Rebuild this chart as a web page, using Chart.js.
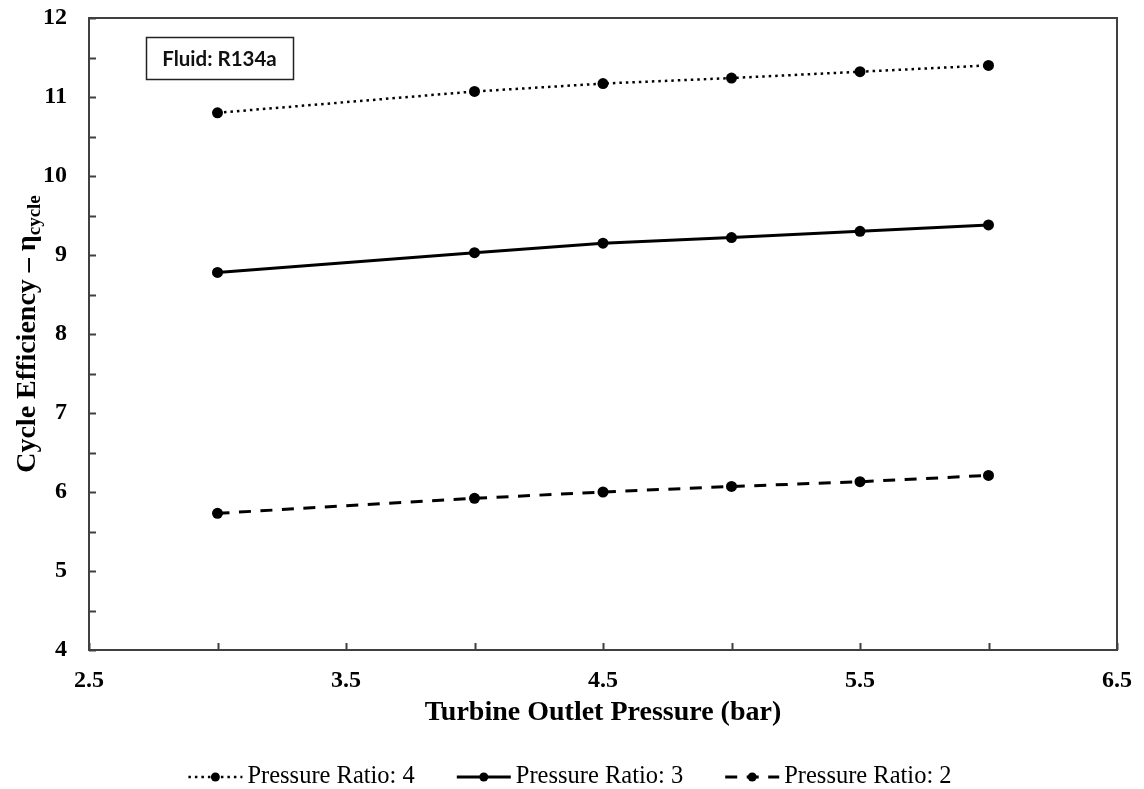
<!DOCTYPE html>
<html>
<head>
<meta charset="utf-8">
<title>Cycle Efficiency vs Turbine Outlet Pressure</title>
<script src="https://cdn.jsdelivr.net/npm/chart.js@4.4.0/dist/chart.umd.min.js"></script>
<style>
  html, body { margin: 0; padding: 0; background: #fff; }
  #wrap { width: 1144px; height: 789px; }
</style>
</head>
<body>
<div id="wrap"><canvas id="effChart" width="1144" height="789"></canvas></div>
<script>
// Turbine outlet pressure (bar)
const outletPressure = [3, 4, 4.5, 5, 5.5, 6];

// Cycle efficiency for each pressure ratio
const effRatio4 = [10.80, 11.07, 11.17, 11.24, 11.32, 11.40];
const effRatio3 = [8.78, 9.03, 9.15, 9.22, 9.30, 9.38];
const effRatio2 = [5.73, 5.92, 6.00, 6.07, 6.13, 6.21];

const seriesLabels = ['Pressure Ratio: 4', 'Pressure Ratio: 3', 'Pressure Ratio: 2'];

// Axis ranges, minor step and the values that get a label
const xRange = [2.5, 6.5];
const yRange = [4, 12];
const xTickLabels = [2.5, 3.5, 4.5, 5.5, 6.5];
const yTickLabels = [4, 5, 6, 7, 8, 9, 10, 11, 12];

const fluidName = 'Fluid: R134a';

const AXIS_COLOR = '#404040';
const SERIF = '"Liberation Serif", "Times New Roman", serif';

function toPoints(ys) {
    return outletPressure.map((x, i) => ({ x: x, y: ys[i] }));
}

function makeDataset(label, ys, dash, width) {
    return {
        label: label,
        data: toPoints(ys),
        borderColor: '#000',
        backgroundColor: '#000',
        borderWidth: width,
        borderDash: dash,
        pointRadius: 5.5,
        pointHoverRadius: 5.5,
        pointBackgroundColor: '#000',
        pointBorderWidth: 0,
        tension: 0
    };
}

// Frame, inward ticks, axis titles, note box and the legend row
const extrasPlugin = {
    id: 'extras',
    afterDraw(chart) {
        const ctx = chart.ctx;
        const area = chart.chartArea;
        const xs = chart.scales.x;
        const ys = chart.scales.y;

        ctx.save();

        // plot frame
        ctx.strokeStyle = AXIS_COLOR;
        ctx.lineWidth = 2;
        ctx.strokeRect(area.left, area.top, area.right - area.left, area.bottom - area.top);

        // tick marks pointing into the plot
        ctx.beginPath();
        xs.ticks.forEach(t => {
            const px = Math.round(xs.getPixelForValue(t.value)) + 0.5;
            ctx.moveTo(px, area.bottom);
            ctx.lineTo(px, area.bottom - 7);
        });
        ys.ticks.forEach(t => {
            const py = Math.round(ys.getPixelForValue(t.value)) + 0.5;
            ctx.moveTo(area.left, py);
            ctx.lineTo(area.left + 7, py);
        });
        ctx.stroke();

        // x axis title
        ctx.fillStyle = '#000';
        ctx.textAlign = 'center';
        ctx.textBaseline = 'middle';
        ctx.font = 'bold 28px ' + SERIF;
        ctx.fillText('Turbine Outlet Pressure (bar)', (area.left + area.right) / 2, 713);

        // y axis title with subscript
        const mainText = 'Cycle Efficiency – η';
        const subText = 'cycle';
        ctx.translate(28, (area.top + area.bottom) / 2);
        ctx.rotate(-Math.PI / 2);
        ctx.font = 'bold 28px ' + SERIF;
        const w1 = ctx.measureText(mainText).width;
        ctx.font = 'bold 19px ' + SERIF;
        const w2 = ctx.measureText(subText).width;
        const start = -(w1 + w2) / 2;
        ctx.textAlign = 'left';
        ctx.font = 'bold 28px ' + SERIF;
        ctx.fillText(mainText, start, 0);
        ctx.font = 'bold 19px ' + SERIF;
        ctx.fillText(subText, start + w1, 7);
        ctx.setTransform(1, 0, 0, 1, 0, 0);

        // fluid note box
        ctx.lineWidth = 1.5;
        ctx.strokeStyle = '#222';
        ctx.strokeRect(146.5, 37.5, 147, 42);
        ctx.font = 'bold 20.5px Lato, "Open Sans", sans-serif';
        ctx.textAlign = 'center';
        ctx.fillStyle = '#111';
        ctx.fillText(fluidName, 219.5, 59);

        // legend row
        drawLegend(chart, ctx);

        ctx.restore();
    }
};

function drawLegend(chart, ctx) {
    const sampleW = 54;
    const textGap = 5;
    const itemGap = 42;
    const rowY = 777;
    ctx.font = '24.5px ' + SERIF;
    const items = chart.data.datasets.map(ds => ({
        ds: ds,
        textW: ctx.measureText(ds.label).width
    }));
    let total = 0;
    items.forEach((it, i) => {
        total += sampleW + textGap + it.textW + (i < items.length - 1 ? itemGap : 0);
    });
    let x = (chart.width - total) / 2 - 2;
    items.forEach(it => {
        const ds = it.ds;
        ctx.strokeStyle = ds.borderColor;
        ctx.lineWidth = ds.borderWidth;
        ctx.setLineDash(ds.borderDash || []);
        ctx.beginPath();
        ctx.moveTo(x, rowY);
        ctx.lineTo(x + sampleW, rowY);
        ctx.stroke();
        ctx.setLineDash([]);
        ctx.fillStyle = ds.pointBackgroundColor;
        ctx.beginPath();
        ctx.arc(x + sampleW / 2, rowY, 4.5, 0, Math.PI * 2);
        ctx.fill();

        ctx.fillStyle = '#000';
        ctx.textAlign = 'left';
        ctx.textBaseline = 'alphabetic';
        ctx.font = '24.5px ' + SERIF;
        ctx.fillText(ds.label, x + sampleW + textGap, rowY + 6);
        x += sampleW + textGap + it.textW + itemGap;
    });
}

function renderChart() {
    const ctx = document.getElementById('effChart').getContext('2d');

    new Chart(ctx, {
        type: 'line',
        data: {
            datasets: [
                makeDataset(seriesLabels[0], effRatio4, [2.5, 4], 2.5),
                makeDataset(seriesLabels[1], effRatio3, [], 3),
                makeDataset(seriesLabels[2], effRatio2, [12, 9.5], 3)
            ]
        },
        options: {
            responsive: false,
            animation: false,
            devicePixelRatio: 1,
            layout: { padding: { top: 18, right: 27, left: 0, bottom: 0 } },
            plugins: {
                legend: { display: false },
                tooltip: { enabled: false }
            },
            scales: {
                x: {
                    type: 'linear',
                    min: xRange[0],
                    max: xRange[1],
                    grid: { display: false, drawTicks: false },
                    border: { display: false },
                    afterFit: scale => {
                        scale.height = 139;
                        scale.paddingLeft = 0;
                        scale.paddingRight = 0;
                    },
                    ticks: {
                        stepSize: 0.5,
                        padding: 16,
                        color: '#000',
                        maxRotation: 0,
                        autoSkip: false,
                        font: { family: SERIF, size: 24, weight: 'bold' },
                        callback: v => xTickLabels.some(t => Math.abs(t - v) < 1e-6) ? v.toFixed(1) : ''
                    }
                },
                y: {
                    min: yRange[0],
                    max: yRange[1],
                    grid: { display: false, drawTicks: false },
                    border: { display: false },
                    afterFit: scale => {
                        scale.width = 89;
                        scale.paddingTop = 0;
                        scale.paddingBottom = 0;
                    },
                    ticks: {
                        stepSize: 0.5,
                        padding: 22,
                        color: '#000',
                        autoSkip: false,
                        font: { family: SERIF, size: 24, weight: 'bold' },
                        callback: v => yTickLabels.includes(v) ? String(v) : ''
                    }
                }
            }
        },
        plugins: [extrasPlugin]
    });
}

document.addEventListener('DOMContentLoaded', renderChart);
</script>
</body>
</html>
